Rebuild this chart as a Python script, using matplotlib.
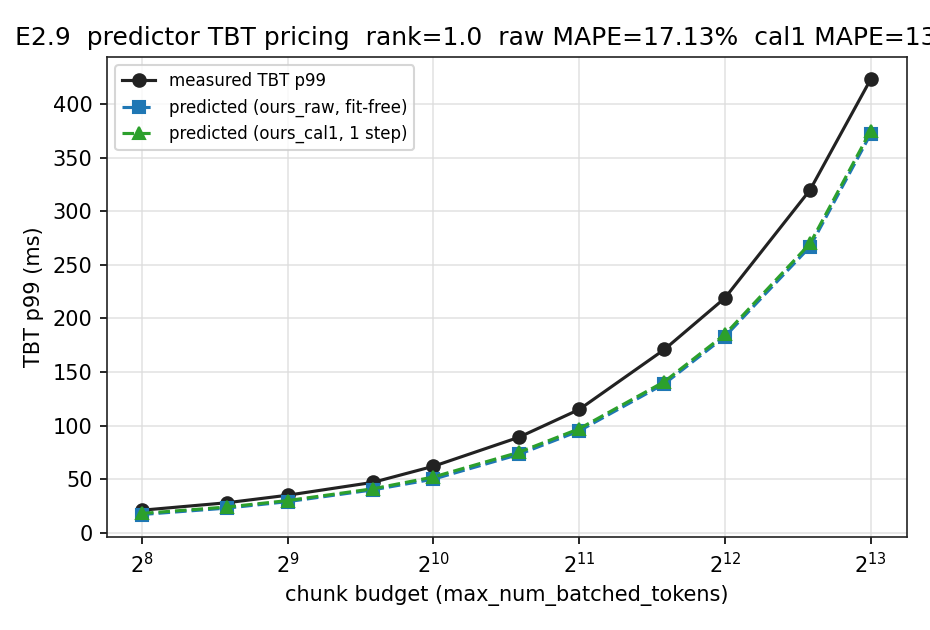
import matplotlib
matplotlib.use("Agg")
import matplotlib.pyplot as plt

chunk = [256, 384, 512, 768, 1024, 1536, 2048, 3072, 4096, 6144, 8192]
measured = [21, 28, 35, 47, 62, 89, 115, 171, 219, 320, 423]
pred_raw = [17, 23, 29, 40, 50, 73, 95, 139, 183, 267, 372]
pred_cal1 = [18, 24, 30, 41, 52, 75, 97, 141, 185, 270, 375]

fig = plt.figure(figsize=(6.2, 4.2), dpi=150)
ax = fig.add_axes([107/930, 1-537/630, 800/930, 480/630])

ax.plot(chunk, measured, '-o', color='#222222', lw=1.5, ms=6, label='measured TBT p99')
ax.plot(chunk, pred_raw, '--s', color='#1f77b4', lw=1.5, ms=6, label='predicted (ours_raw, fit-free)')
ax.plot(chunk, pred_cal1, '--^', color='#2ca02c', lw=1.5, ms=6, label='predicted (ours_cal1, 1 step)')

ax.set_xscale('log', base=2)
ax.set_xlim(2**7.76, 2**13.25)
ax.set_ylim(-4, 444)
ax.set_yticks(range(0, 401, 50))
ax.grid(True, color='#dddddd', lw=0.8, alpha=0.8)
ax.tick_params(labelsize=10)
ax.set_xlabel('chunk budget (max_num_batched_tokens)', fontsize=10)
ax.set_ylabel('TBT p99 (ms)', fontsize=10)
ax.set_title('E2.9  predictor TBT pricing  rank=1.0  raw MAPE=17.13%  cal1 MAPE=13.45%', fontsize=12)
ax.legend(loc='upper left', fontsize=8)
for s in ax.spines.values():
    s.set_color('#222222')

fig.savefig('out.png', dpi=150)
